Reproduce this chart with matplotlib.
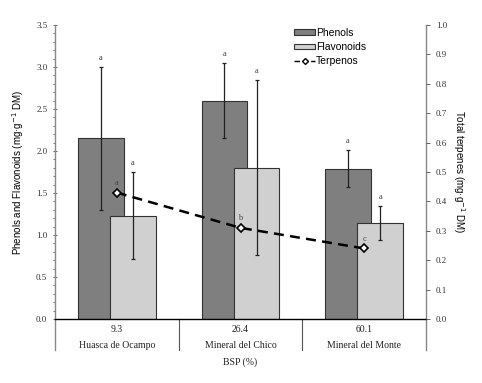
import matplotlib
matplotlib.use("Agg")
import matplotlib.pyplot as plt
from matplotlib.ticker import MultipleLocator, FormatStrFormatter
from matplotlib.lines import Line2D
from matplotlib.patches import Patch
import matplotlib.transforms as mtransforms

bsp = ["9.3", "26.4", "60.1"]
sites = ["Huasca de Ocampo", "Mineral del Chico", "Mineral del Monte"]
phenols = [2.15, 2.60, 1.79]
phenols_err = [0.85, 0.45, 0.22]
flavonoids = [1.23, 1.80, 1.14]
flavonoids_err = [0.52, 1.04, 0.20]
terpenes = [0.43, 0.31, 0.24]
phen_letters = ["a", "a", "a"]
flav_letters = ["a", "a", "a"]
terp_letters = ["a", "b", "c"]

sans = "Liberation Sans"
serif = "Liberation Serif"

fig = plt.figure(figsize=(4.82, 3.83), dpi=100)
ax = fig.add_axes([55/482, 1-319/383, (426-55)/482, (319-25)/383])
ax2 = ax.twinx()

x = list(range(len(bsp)))
w = 0.37
off = 0.13
ecol = "#222222"
ax.bar([i - off for i in x], phenols, width=w, color="#7f7f7f", edgecolor="#333333",
       linewidth=0.8, zorder=2)
ax.bar([i + off for i in x], flavonoids, width=w, color="#d0d0d0", edgecolor="#333333",
       linewidth=0.8, zorder=3)
ax.errorbar([i - off for i in x], phenols, yerr=phenols_err, fmt="none", ecolor=ecol,
            elinewidth=0.9, capsize=1.5, capthick=0.9, zorder=4)
ax.errorbar([i + off for i in x], flavonoids, yerr=flavonoids_err, fmt="none", ecolor=ecol,
            elinewidth=0.9, capsize=1.5, capthick=0.9, zorder=4)
for i in x:
    ax.text(i - off, phenols[i] + phenols_err[i] + 0.06, phen_letters[i], ha="center", va="bottom",
            fontsize=6, family=serif, color="#444444", zorder=5)
    ax.text(i + off, flavonoids[i] + flavonoids_err[i] + 0.06, flav_letters[i], ha="center", va="bottom",
            fontsize=6, family=serif, color="#444444", zorder=5)

ax2.plot(x, terpenes, color="black", linestyle=(0, (4, 2.5)), linewidth=1.8, marker="D",
         markersize=4.5, markerfacecolor="white", markeredgecolor="black", markeredgewidth=1.2,
         zorder=6)
for i in x:
    ax2.text(i, terpenes[i] + 0.02, terp_letters[i], ha="center", va="bottom", fontsize=6,
             family=serif, color="#444444", zorder=7)
ax.set_zorder(1)
ax2.set_zorder(2)
ax2.patch.set_visible(False)

ax.set_xlim(-0.5, 2.5)
ax.set_ylim(0, 3.5)
ax2.set_ylim(0, 1.0)

ax.yaxis.set_major_locator(MultipleLocator(0.5))
ax.yaxis.set_minor_locator(MultipleLocator(0.1))
ax.yaxis.set_major_formatter(FormatStrFormatter("%.1f"))
ax2.yaxis.set_major_locator(MultipleLocator(0.1))
ax2.yaxis.set_major_formatter(FormatStrFormatter("%.1f"))
ax.tick_params(axis="y", which="major", length=3, width=0.7, color="#666666", direction="inout",
               labelsize=6.5, pad=4)
ax.tick_params(axis="y", which="minor", length=1.5, width=0.6, color="#666666", direction="out")
ax2.tick_params(axis="y", which="major", length=3, width=0.7, color="#666666", direction="out",
                labelsize=6.5, pad=4)
for t in ax.get_yticklabels() + ax2.get_yticklabels():
    t.set_family(serif)
    t.set_color("#333333")
ax.set_xticks([])
ax2.set_xticks([])

for a in (ax, ax2):
    for s in ("top", "left", "right", "bottom"):
        a.spines[s].set_visible(False)

ext = -31/294
trans = mtransforms.blended_transform_factory(ax.transData, ax.transAxes)
ax.add_line(Line2D([0, 0], [ext, 1], transform=ax.transAxes, color="#888888", lw=1.0, clip_on=False))
ax.add_line(Line2D([1, 1], [ext, 1], transform=ax.transAxes, color="#888888", lw=1.0, clip_on=False))
ax.add_line(Line2D([0, 1], [0, 0], transform=ax.transAxes, color="black", lw=1.0, clip_on=False, zorder=5))
for s in (0.5, 1.5):
    ax.add_line(Line2D([s, s], [ext, 0], transform=trans, color="#555555", lw=0.8, clip_on=False))
for i in x:
    ax.text(i, -11/294, bsp[i], transform=trans, ha="center", va="center", fontsize=7,
            family=serif, color="#222222")
    ax.text(i, -26/294, sites[i], transform=trans, ha="center", va="center", fontsize=7,
            family=serif, color="#222222")
ax.text(1, -43/294, "BSP (%)", transform=trans, ha="center", va="center", fontsize=7,
        family=serif, color="#222222")

ax.set_ylabel("Phenols and Flavonoids (mg·g$^{-1}$ DM)", family=sans, fontsize=7, labelpad=7)
ax2.set_ylabel("Total terpenes (mg·g$^{-1}$ DM)", family=sans, fontsize=7, rotation=270, labelpad=14)

handles = [Patch(facecolor="#7f7f7f", edgecolor="#333333", lw=0.8),
           Patch(facecolor="#d0d0d0", edgecolor="#333333", lw=0.8),
           Line2D([], [], color="black", linestyle=(0, (4, 2)), lw=1.0, marker="D", markersize=3,
                  markerfacecolor="white", markeredgecolor="black")]
leg = ax.legend(handles, ["Phenols", "Flavonoids", "Terpenos"], loc="upper left",
                bbox_to_anchor=((290-55)/371, 1.005), frameon=False, handlelength=2.0,
                handleheight=0.4, handletextpad=0.1, labelspacing=0.4, borderaxespad=0,
                prop={"family": sans, "size": 7.5})
leg.set_zorder(10)

fig.savefig("out.png", dpi=100)
